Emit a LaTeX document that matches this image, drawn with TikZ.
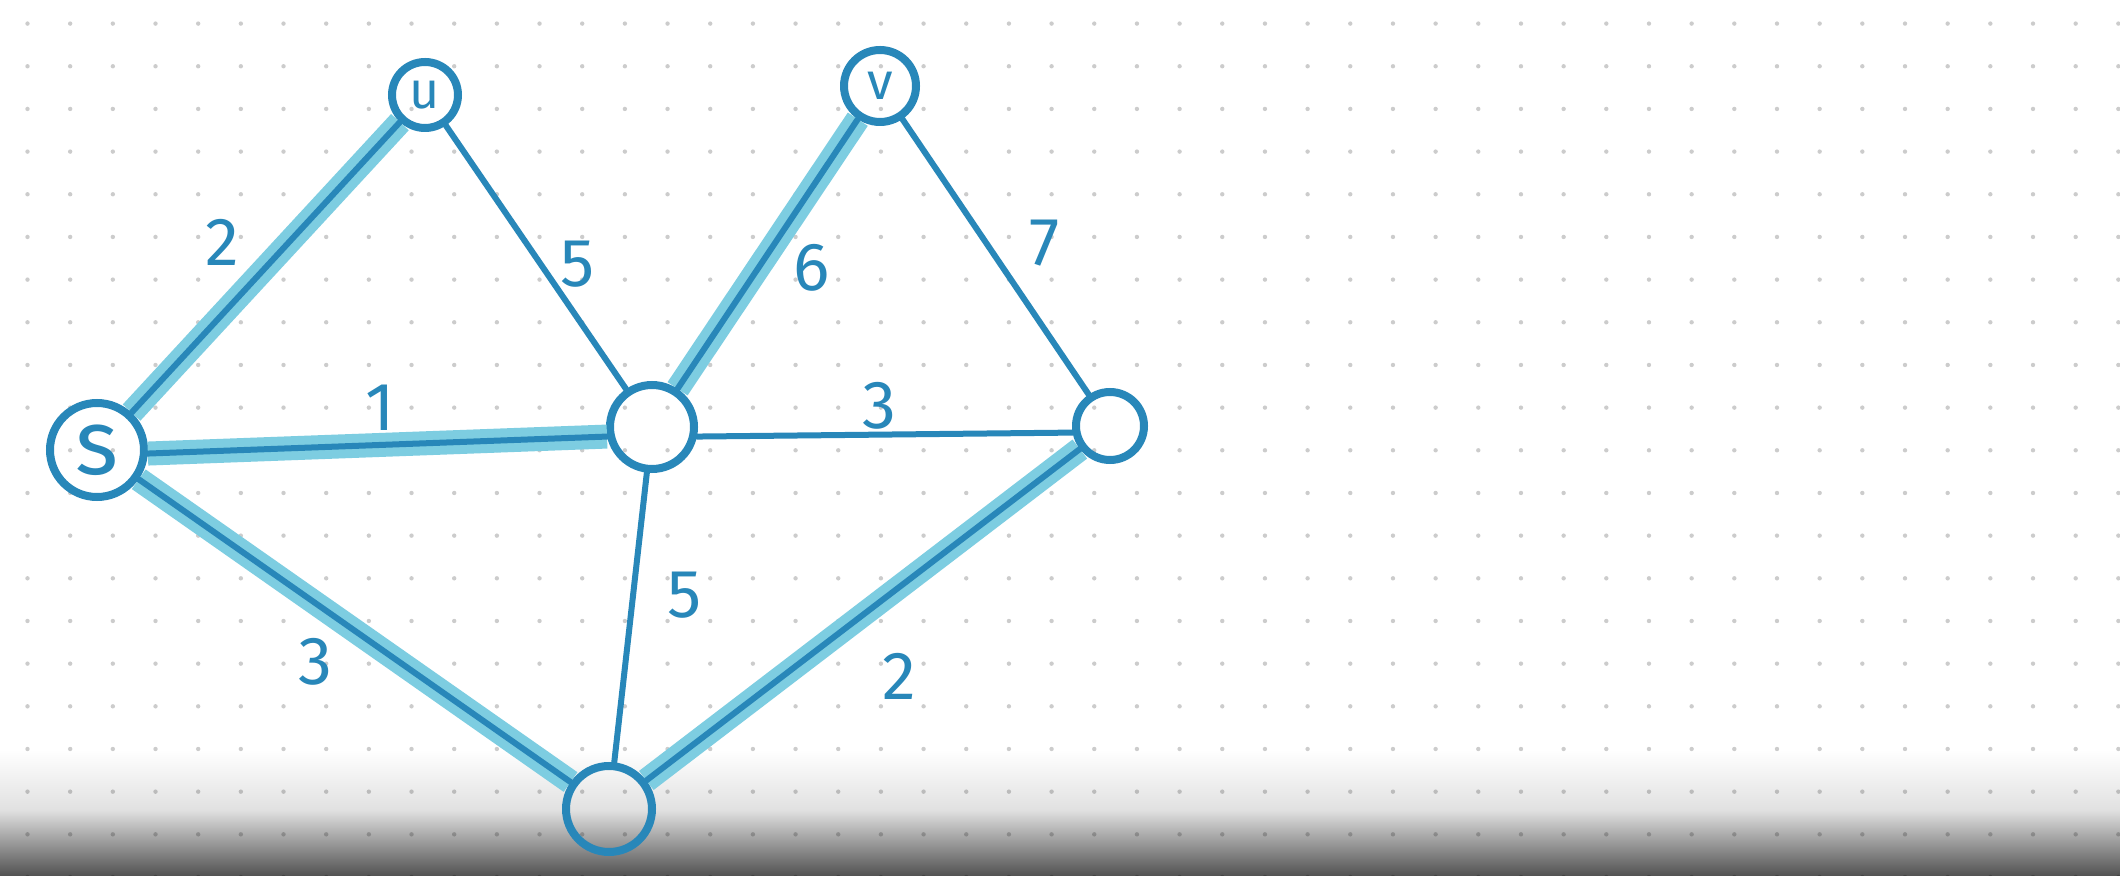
\documentclass[tikz,border=0pt]{standalone}
\usepackage{fontspec}
\setsansfont{Fira Sans}
\definecolor{ink}{RGB}{40,135,185}
\definecolor{hl}{RGB}{125,205,225}
\begin{document}
\begin{tikzpicture}[x=0.5pt,y=-0.5pt,
  vtx/.style={circle,draw=ink,line width=4pt,inner sep=0pt,text=ink},
  edge/.style={draw=ink,line width=3pt,line cap=round},
  hledge/.style={draw=hl,line width=12pt},
  wt/.style={text=ink,font=\sffamily\fontsize{34}{34}\selectfont,inner sep=0pt},
  lblsmall/.style={font=\sffamily\fontsize{26}{26}\selectfont},
  lblbig/.style={font=\sffamily\fontsize{46}{46}\selectfont}]
\useasboundingbox (0,0) rectangle (2120,876);
\fill[white] (0,0) rectangle (2120,876);
\shade[top color=white,bottom color=black!12] (0,750) rectangle (2120,811);
\shade[top color=black!12,bottom color=black!68] (0,810) rectangle (2120,876);
\foreach \i in {0,...,49}{
  \foreach \j in {0,...,20}{
    \fill[black,opacity=0.2] ({27.5+42.67*\i},{23.6+42.67*\j}) circle (1.1pt);
  }
}
% vertices
\node[vtx,minimum size=47pt,lblbig] (s) at (97,450) {s};
\node[vtx,minimum size=33pt,lblsmall] (u) at (425,95) {u};
\node[vtx,minimum size=36pt,lblsmall] (v) at (880,86) {v};
\node[vtx,minimum size=42pt] (c) at (652,427) {};
\node[vtx,minimum size=34pt] (r) at (1110,426) {};
\node[vtx,minimum size=43pt] (b) at (609,809) {};
% highlighted edges (underlay)
\draw[hledge] (s) -- (u);
\draw[hledge] (s.-4) -- (c.192);
\draw[hledge] (s) -- (b);
\draw[hledge] (c) -- (v);
\draw[hledge] (r) -- (b);
% edges
\draw[edge] (s) -- (u);
\draw[edge] (s.-4) -- (c.192);
\draw[edge] (s) -- (b);
\draw[edge] (c) -- (v);
\draw[edge] (r) -- (b);
\draw[edge] (u) -- (c);
\draw[edge] (v) -- (r);
\draw[edge] (c.-12) -- (r.190);
\draw[edge] (c) -- (b);
% weights
\node[wt] (w1) at (222,242) {2};
\node[wt] (w2) at (578,264) {5};
\node[wt] (w3) at (380,408) {1};
\node[wt] (w4) at (812,268) {6};
\node[wt] (w5) at (1045,243) {7};
\node[wt] (w6) at (879,406) {3};
\node[wt] (w7) at (685,595) {5};
\node[wt] (w8) at (315,662) {3};
\node[wt] (w9) at (899,676) {2};
\end{tikzpicture}
\end{document}
